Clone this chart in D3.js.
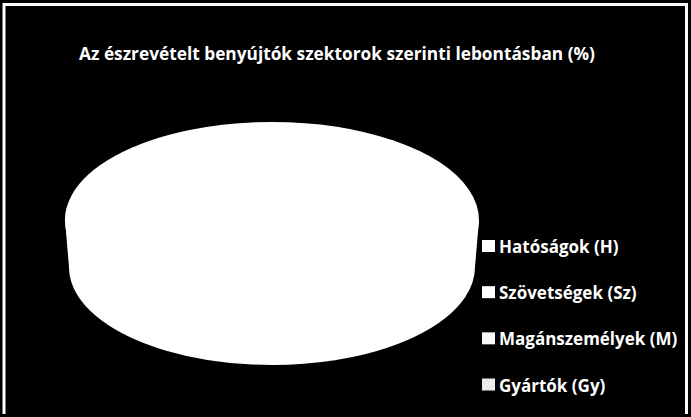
<!DOCTYPE html>
<html>
<head>
<meta charset="utf-8">
<script src="https://cdnjs.cloudflare.com/ajax/libs/d3/7.8.5/d3.min.js"></script>
<style>
html, body { margin: 0; padding: 0; background: #000; }
text { font-family: "Open Sans", "Noto Sans", sans-serif; font-weight: 700; fill: #fff; }
</style>
</head>
<body>
<div class="container"></div>
<script>
var width = 691;
var height = 417;

var title = "Az észrevételt benyújtók szektorok szerinti lebontásban (%)";
var categories = ["Hatóságok (H)", "Szövetségek (Sz)", "Magánszemélyek (M)", "Gyártók (Gy)"];
// every slice is white in the picture, so the shares are a rough guess
var shares = [10, 20, 15, 55];
var slice_colors = ["#ffffff", "#ffffff", "#ffffff", "#ffffff"];
var legend_colors = ["#ffffff", "#ffffff", "#f8f8f8", "#ececec"];

var pie_center_x = 272;
var pie_top_y = 220;
var pie_bottom_y = 267;
var pie_rx = 206;
var pie_ry = 97;
var side_rx = 202;

function draw_disc(svg, slices, arc, cy, rx) {
    var disc = svg.append("g")
        .attr("transform", "translate(" + pie_center_x + "," + cy + ") scale(" + rx + "," + pie_ry + ")");
    disc.selectAll("path")
        .data(slices)
        .enter()
        .append("path")
        .attr("d", arc)
        .attr("fill", function(d, i){return slice_colors[i];})
        .attr("stroke", function(d, i){return slice_colors[i];})
        .attr("stroke-width", 2) // hides the seams between white slices
        .attr("vector-effect", "non-scaling-stroke");
}

function init() {
    var svg = d3.select(".container").append("svg")
        .attr("width", width)
        .attr("height", height)
        .style("display", "block");

    // frame, open along the bottom
    svg.append("path")
        .attr("d", d3.line()([[4, 414], [4, 4.5], [686.5, 4.5], [686.5, 414]]))
        .attr("fill", "none")
        .attr("stroke", "#ffffff")
        .attr("stroke-width", 3);

    svg.append("text")
        .attr("x", 337)
        .attr("y", 60)
        .attr("text-anchor", "middle")
        .attr("font-size", 17.3)
        .text(title);

    var pie = d3.pie().sort(null);
    var arc = d3.arc().innerRadius(0).outerRadius(1);
    var slices = pie(shares);

    // lower rim of the disc, then the wall, then the top face
    draw_disc(svg, slices, arc, pie_bottom_y, side_rx);

    svg.append("path")
        .attr("d", d3.line()([
            [pie_center_x - pie_rx - 1, pie_top_y],
            [pie_center_x + pie_rx + 1, pie_top_y],
            [pie_center_x + side_rx + 1, pie_bottom_y],
            [pie_center_x - side_rx - 1, pie_bottom_y]
        ]))
        .attr("fill", "#ffffff");

    draw_disc(svg, slices, arc, pie_top_y, pie_rx);

    var legend_y = d3.scalePoint().domain(categories).range([246, 384.5]);

    var items = svg.selectAll("g.legend")
        .data(categories)
        .enter()
        .append("g")
        .classed("legend", true)
        .attr("transform", function(d){return "translate(482," + legend_y(d) + ")";});

    items.append("rect")
        .attr("x", 0)
        .attr("y", -6)
        .attr("width", 13)
        .attr("height", 12)
        .attr("fill", function(d, i){return legend_colors[i];});

    items.append("text")
        .attr("x", 17)
        .attr("y", 7)
        .attr("font-size", 17)
        .text(function(d){return d;});
}

init();
</script>
</body>
</html>
